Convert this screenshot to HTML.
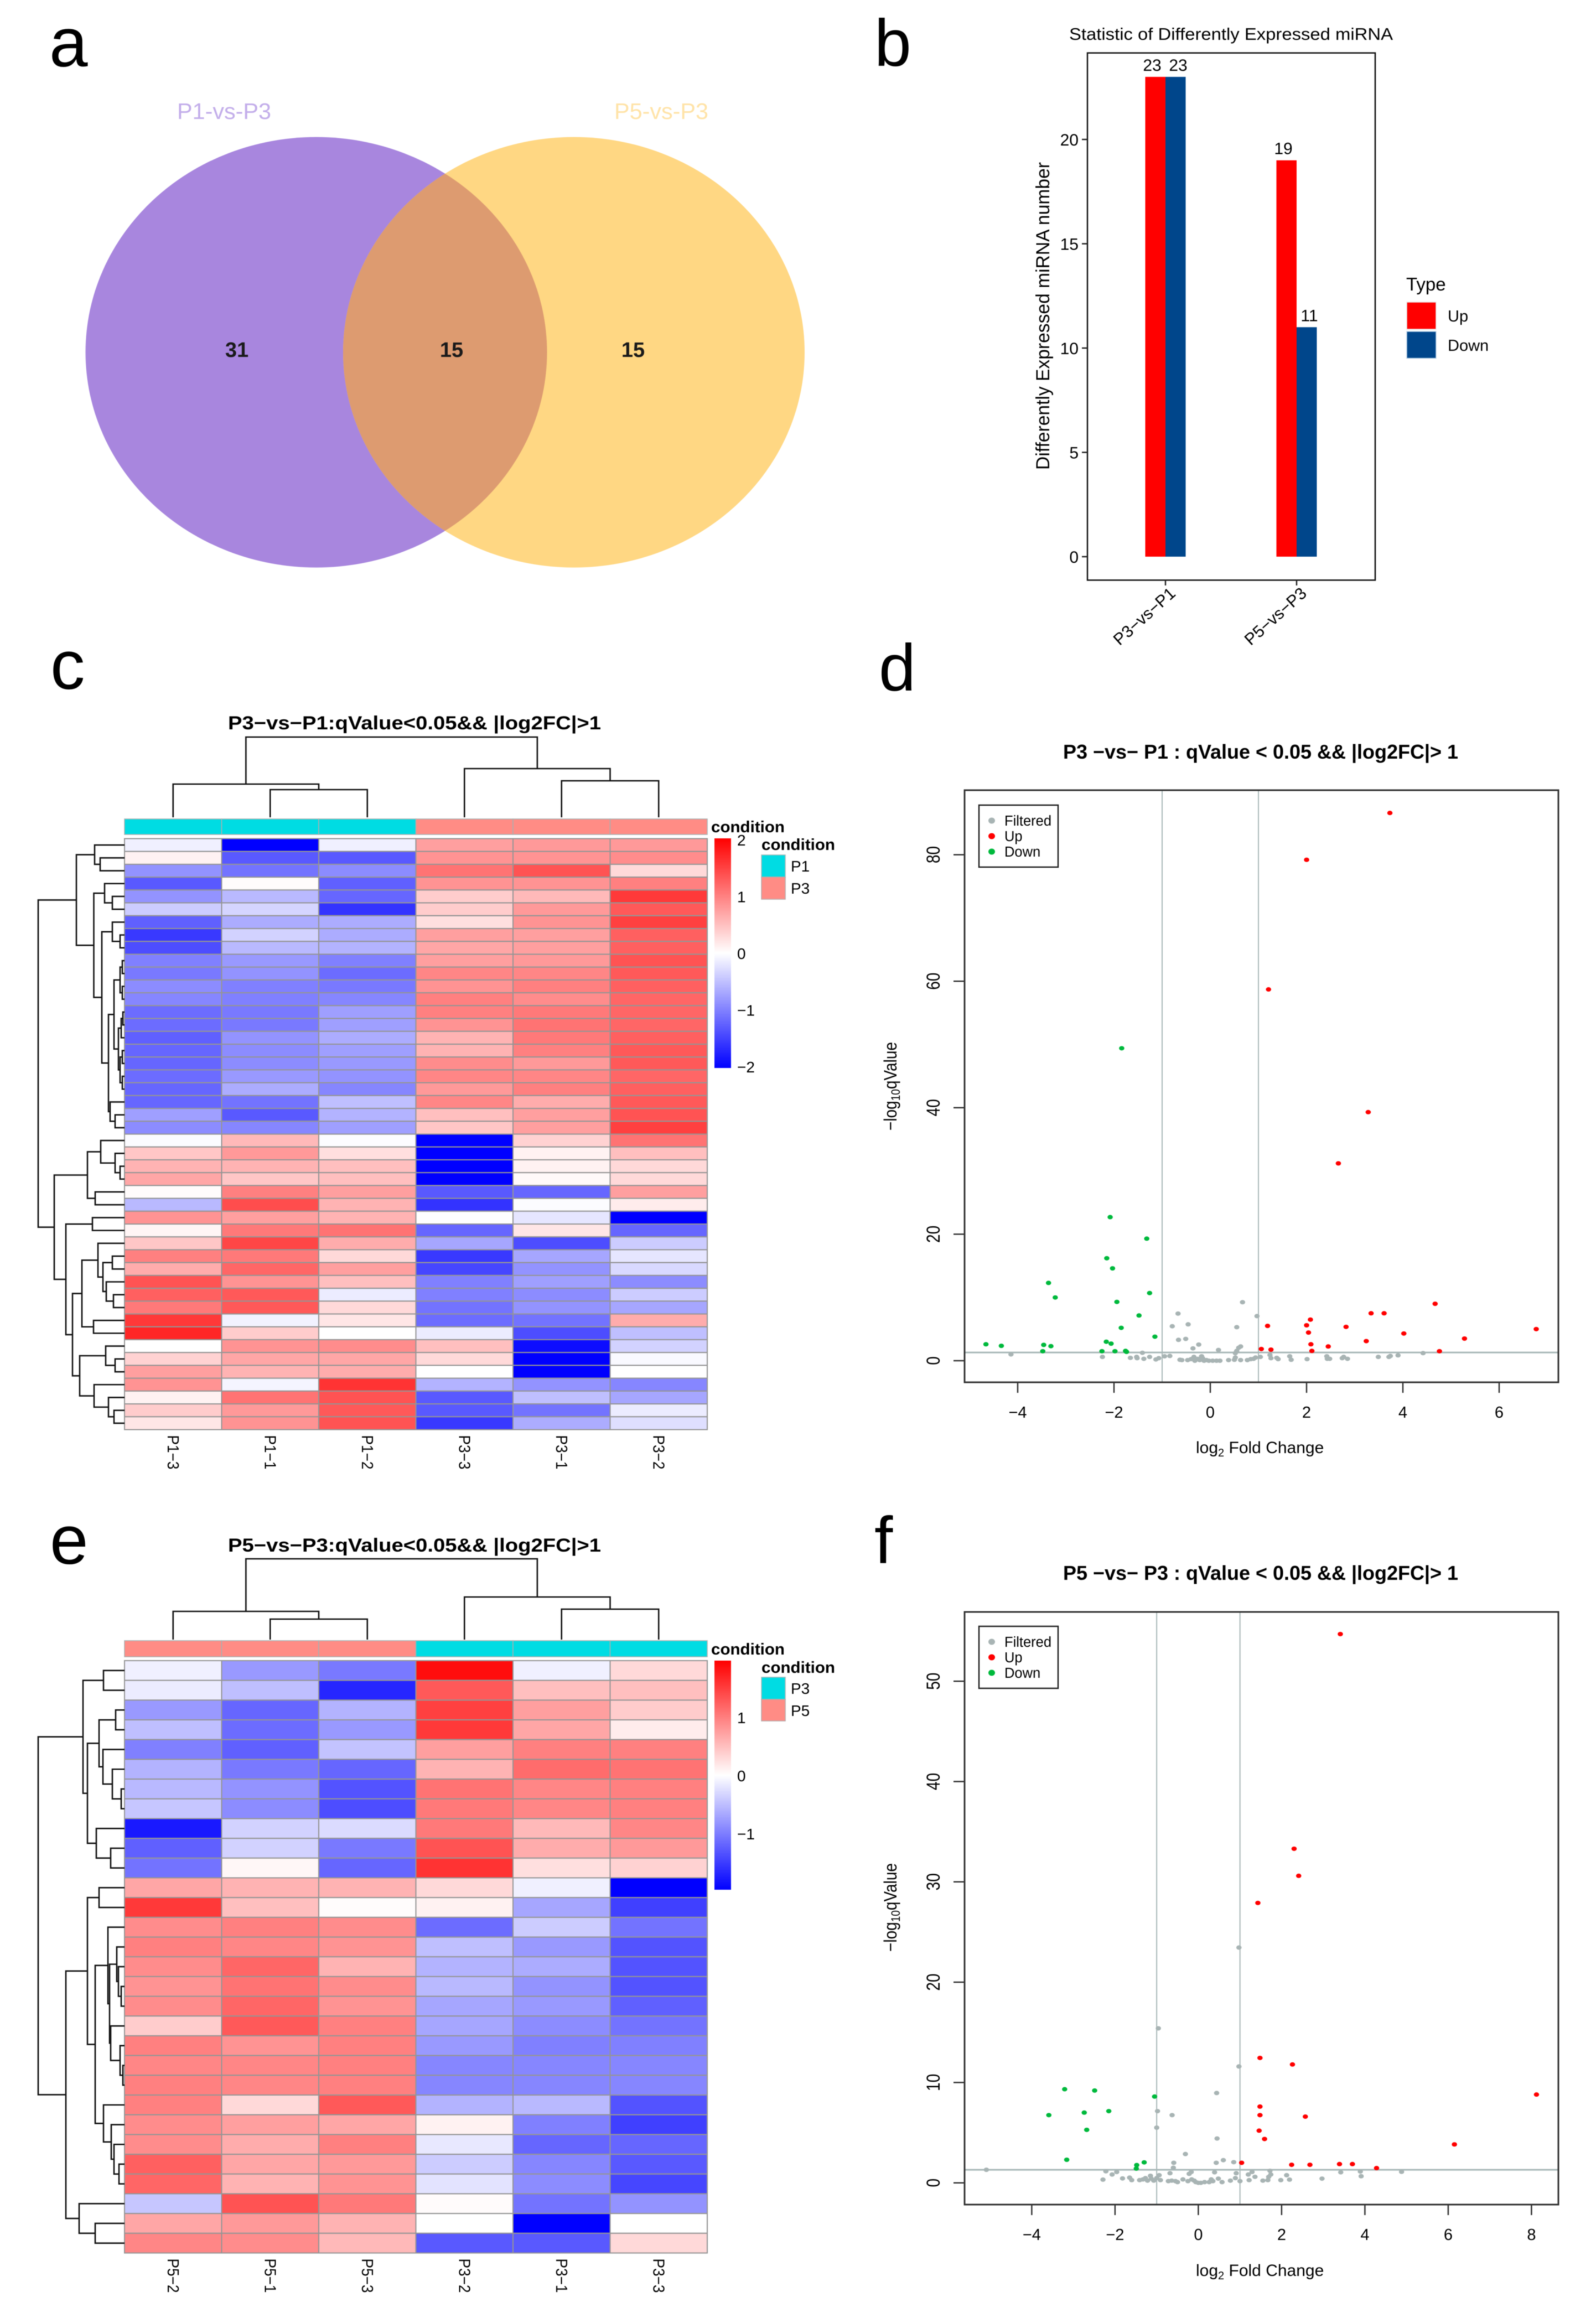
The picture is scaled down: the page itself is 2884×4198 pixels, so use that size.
<!DOCTYPE html>
<html lang="en">
<head>
<meta charset="utf-8">
<title>Differentially expressed miRNA figure</title>
<style>
html,body{margin:0;padding:0;background:#fff;}
svg{display:block;filter:blur(0.7px);}
text{font-family:"Liberation Sans",Arial,sans-serif;fill:#000;}
</style>
</head>
<body>
<svg id="figure" xmlns="http://www.w3.org/2000/svg" width="2884" height="4198" viewBox="0 0 2884 4198">
<defs>
<clipPath id="venn-clip"><ellipse cx="1037" cy="636.6" rx="417" ry="389"/></clipPath>
<linearGradient id="cbar-grad" x1="0" y1="0" x2="0" y2="1">
<stop offset="0" stop-color="#ff0000"/><stop offset="0.5" stop-color="#ffffff"/><stop offset="1" stop-color="#0000ff"/>
</linearGradient>
</defs>
<rect width="2884" height="4198" fill="#ffffff"/>

<text x="89" y="120" font-size="125">a</text>
<text x="1580" y="119" font-size="120">b</text>
<text x="91" y="1245" font-size="125">c</text>
<text x="1588" y="1248" font-size="120">d</text>
<text x="90" y="2826" font-size="125">e</text>
<text x="1580" y="2825" font-size="120">f</text>

<g>
<ellipse cx="571.5" cy="636.6" rx="417" ry="389" fill="#a886de"/>
<ellipse cx="1037" cy="636.6" rx="417" ry="389" fill="#ffd783"/>
<ellipse cx="571.5" cy="636.6" rx="417" ry="389" fill="#dd9b70" clip-path="url(#venn-clip)"/>
<text x="320" y="215" font-size="41" textLength="170" lengthAdjust="spacingAndGlyphs" style="fill:#c3aeea">P1-vs-P3</text>
<text x="1110" y="215" font-size="41" textLength="170" lengthAdjust="spacingAndGlyphs" style="fill:#ffe3a8">P5-vs-P3</text>
<text x="428" y="645" font-size="38" font-weight="bold" text-anchor="middle" style="fill:#1a1a1a">31</text>
<text x="816" y="645" font-size="38" font-weight="bold" text-anchor="middle" style="fill:#1a1a1a">15</text>
<text x="1144" y="645" font-size="38" font-weight="bold" text-anchor="middle" style="fill:#1a1a1a">15</text>
</g>

<g id="bar-chart">
<text x="1932" y="72" font-size="31" textLength="585" lengthAdjust="spacingAndGlyphs">Statistic of Differently Expressed miRNA</text>
<text transform="translate(1896,571) rotate(-90)" font-size="34" text-anchor="middle" textLength="556" lengthAdjust="spacingAndGlyphs">Differently Expressed miRNA number</text>
<text x="2541" y="525" font-size="33">Type</text>
<rect x="2542" y="546" width="53" height="49" fill="#ff0000" stroke="#e8e8e8" stroke-width="1.5"/>
<rect x="2542" y="599" width="53" height="48.5" fill="#00468b" stroke="#bcd3e8" stroke-width="1.5"/>
<text x="2616" y="581" font-size="29">Up</text>
<text x="2616" y="634" font-size="29">Down</text>
</g>

<g id="heat-c">
<text x="412" y="1318" font-size="34" font-weight="bold" textLength="674" lengthAdjust="spacingAndGlyphs">P3−vs−P1:qValue&lt;0.05&amp;&amp; |log2FC|&gt;1</text>
<text x="1285" y="1504" font-size="29" font-weight="bold" textLength="133" lengthAdjust="spacingAndGlyphs">condition</text>
<text x="1376" y="1536" font-size="29" font-weight="bold" textLength="133" lengthAdjust="spacingAndGlyphs">condition</text>
<rect x="1376" y="1545" width="43" height="40" fill="#00dce3" stroke="#a8b8b8" stroke-width="1.5"/>
<rect x="1376" y="1585" width="43" height="40" fill="#ff8c85" stroke="#b8a8a8" stroke-width="1.5"/>
<text x="1429" y="1575" font-size="28">P1</text>
<text x="1429" y="1615" font-size="28">P3</text>
</g>

<g id="heat-e">
<text x="412" y="2804" font-size="34" font-weight="bold" textLength="674" lengthAdjust="spacingAndGlyphs">P5−vs−P3:qValue&lt;0.05&amp;&amp; |log2FC|&gt;1</text>
<text x="1285" y="2990" font-size="29" font-weight="bold" textLength="133" lengthAdjust="spacingAndGlyphs">condition</text>
<text x="1376" y="3023" font-size="29" font-weight="bold" textLength="133" lengthAdjust="spacingAndGlyphs">condition</text>
<rect x="1376" y="3031" width="43" height="40" fill="#00dce3" stroke="#a8b8b8" stroke-width="1.5"/>
<rect x="1376" y="3071" width="43" height="39" fill="#ff8c85" stroke="#b8a8a8" stroke-width="1.5"/>
<text x="1429" y="3061" font-size="28">P3</text>
<text x="1429" y="3101" font-size="28">P5</text>
</g>

<g id="volcano-d">
<text x="1921" y="1371" font-size="36" font-weight="bold" textLength="714" lengthAdjust="spacingAndGlyphs">P3 −vs− P1 : qValue &lt; 0.05 &amp;&amp; |log2FC|&gt; 1</text>
<text x="2161" y="2626" font-size="30">log<tspan font-size="20" dy="6">2</tspan><tspan dy="-6"> Fold Change</tspan></text>
<text transform="translate(1620,1963) rotate(-90) scale(1,1.15)" font-size="28" text-anchor="middle">−log<tspan font-size="19" dy="5">10</tspan><tspan dy="-5">qValue</tspan></text>
</g>

<g id="volcano-f">
<text x="1921" y="2855" font-size="36" font-weight="bold" textLength="714" lengthAdjust="spacingAndGlyphs">P5 −vs− P3 : qValue &lt; 0.05 &amp;&amp; |log2FC|&gt; 1</text>
<text x="2161" y="4113" font-size="30">log<tspan font-size="20" dy="6">2</tspan><tspan dy="-6"> Fold Change</tspan></text>
<text transform="translate(1620,3447) rotate(-90) scale(1,1.15)" font-size="28" text-anchor="middle">−log<tspan font-size="19" dy="5">10</tspan><tspan dy="-5">qValue</tspan></text>
</g>
</svg>

<script>
/* ---------- bar chart data ---------- */
const barCategories = ['P3−vs−P1', 'P5−vs−P3'];
const barUp = [23, 19];
const barDown = [23, 11];
const barTicks = [0, 5, 10, 15, 20];

/* ---------- heatmap c data ---------- */
const heatCColumns = ['P1−3', 'P1−1', 'P1−2', 'P3−3', 'P3−1', 'P3−2'];
const heatCGroups = ['P1', 'P1', 'P1', 'P3', 'P3', 'P3'];
const heatCTicks = [2, 1, 0, -1, -2];
const heatCValues = [
[-0.12,-2,-0.12,0.75,0.8,0.8],
[0.1,-1.3,-1.3,0.85,0.85,0.9],
[-0.85,-1.1,-0.9,1.1,1.35,0.3],
[-1.3,0.02,-1.25,0.85,0.85,1.0],
[-0.85,-0.55,-1.2,0.4,0.55,1.55],
[-0.4,-0.33,-1.6,0.4,0.8,1.3],
[-1.25,-0.65,-0.65,0.25,0.85,1.5],
[-1.55,-0.35,-0.65,0.75,0.75,1.25],
[-1.4,-0.55,-0.6,0.7,0.75,1.25],
[-1.0,-0.8,-1.0,0.75,0.8,1.35],
[-1.05,-0.85,-1.15,0.95,0.95,1.3],
[-0.9,-1.0,-1.05,0.85,1.0,1.25],
[-0.95,-1.0,-0.95,1.0,0.9,1.2],
[-1.15,-1.05,-0.75,1.0,1.05,1.2],
[-1.15,-1.05,-0.75,0.85,1.1,1.2],
[-1.25,-0.85,-0.65,0.6,1.05,1.25],
[-1.2,-0.9,-0.75,0.6,1.0,1.3],
[-1.2,-0.9,-0.8,0.9,0.8,1.3],
[-1.15,-0.8,-0.85,0.95,0.95,1.2],
[-1.2,-0.65,-0.95,0.8,1.0,1.25],
[-1.2,-1.1,-0.5,0.95,0.65,1.3],
[-0.75,-1.3,-0.6,0.5,0.75,1.35],
[-0.9,-0.95,-0.75,0.45,0.75,1.5],
[-0.03,0.55,-0.02,-2,0.35,1.1],
[0.45,0.8,0.25,-2,0.1,0.5],
[0.6,0.6,0.5,-2,0.1,0.3],
[0.7,0.45,0.5,-2,0.05,0.3],
[0.03,1.0,0.75,-1.3,-1.2,0.75],
[-0.55,1.4,0.6,-1.6,-0.02,0.15],
[0.85,0.75,0.6,0,-0.2,-2],
[0.08,1.05,1.1,-1.2,0.2,-1.2],
[0.45,1.45,0.65,-0.7,-1.4,-0.4],
[1.0,1.05,0.3,-1.55,-0.7,-0.2],
[0.65,1.2,0.75,-1.45,-0.85,-0.3],
[1.35,0.85,0.5,-1.0,-0.75,-0.9],
[1.25,1.3,-0.15,-1.0,-0.9,-0.4],
[1.05,1.3,0.3,-1.1,-0.85,-0.7],
[1.55,-0.1,0.2,-1.15,-1.1,0.65],
[1.7,0.4,0,-0.15,-1.4,-0.5],
[0,0.85,0.9,0.5,-1.9,-0.35],
[0.35,0.7,0.7,0.3,-2,-0.05],
[0.75,0.6,0.65,0,-2,0],
[0.85,-0.08,1.6,-0.6,-0.85,-0.95],
[0.1,1.1,1.35,-1.3,-0.5,-0.7],
[0.4,0.8,1.3,-1.3,-1.1,-0.15],
[0.2,0.85,1.35,-1.55,-0.65,-0.25]
];
/* dendrograms: [merge height, child, child]; 0 is a leaf */
const heatCColTree = [145,[60,0,[50,0,0]],[88,0,[66,0,0]]];
const heatCRowTree = [156,
  [87,
    [54,0,[44,0,0]],
    [55.5,
      [36,0,[22,0,0]],
      [41,
        [22,0,[8,0,0]],
        [29,
          [19,[8,[4,0,0],[4,0,0]],[11,[6,[3,0,0],0],[8,[4,0,0],[4,0,0]]]],
          [26,0,[17,0,0]]
        ]
      ]
    ]
  ],
  [127,
    [67,
      [43,0,[17,0,[8,0,0]]],
      [53,0,0]
    ],
    [106,
      [58,0,0],
      [94,
        [77,
          [48,0,[39,[22,0,0],[33,0,[20,0,0]]]],
          [56,0,0]
        ],
        [81,
          [34,0,[17,0,0]],
          [55,0,[29,0,[19,0,0]]]
        ]
      ]
    ]
  ]
];

/* ---------- heatmap e data ---------- */
const heatEColumns = ['P5−2', 'P5−1', 'P5−3', 'P3−2', 'P3−1', 'P3−3'];
const heatEGroups = ['P5', 'P5', 'P5', 'P3', 'P3', 'P3'];
const heatETicks = [1, 0, -1];
const heatEValues = [
[-0.12,-0.8,-1.05,1.9,-0.12,0.3],
[-0.15,-0.5,-1.7,1.3,0.5,0.5],
[-0.8,-1.2,-0.6,1.5,0.75,0.4],
[-0.5,-1.15,-0.8,1.55,0.7,0.15],
[-1.0,-1.25,-0.47,0.75,1.0,1.0],
[-0.6,-1.05,-1.2,0.6,1.15,1.1],
[-0.55,-0.85,-1.35,1.1,0.95,1.0],
[-0.45,-0.9,-1.4,1.05,0.95,1.0],
[-1.8,-0.35,-0.28,1.05,0.55,0.95],
[-1.25,-0.35,-1.05,1.35,0.65,0.8],
[-1.1,0.06,-1.2,1.6,0.25,0.35],
[0.7,0.6,0.6,0.3,-0.12,-2],
[1.55,0.5,0.02,0.1,-0.7,-1.5],
[0.9,1.0,0.9,-1.15,-0.4,-1.1],
[1.0,0.95,0.85,-0.5,-0.8,-1.35],
[0.9,1.2,0.6,-0.6,-0.65,-1.35],
[0.85,1.1,0.9,-0.55,-0.85,-1.35],
[0.9,1.2,0.85,-0.7,-0.8,-1.25],
[0.4,1.3,1.0,-0.7,-0.9,-1.1],
[1.0,0.85,1.0,-0.8,-1.0,-1.0],
[0.95,0.95,1.0,-0.95,-0.95,-0.95],
[1.0,0.95,1.0,-0.95,-0.95,-0.95],
[1.0,0.3,1.3,-0.6,-0.55,-1.35],
[0.9,0.75,0.7,0.1,-1.0,-1.5],
[0.9,0.65,1.0,-0.18,-1.2,-1.2],
[1.25,0.7,0.8,-0.4,-0.95,-1.3],
[1.2,0.6,0.85,-0.22,-0.9,-1.45],
[-0.45,1.35,1.05,0.03,-1.1,-0.85],
[0.7,0.8,0.6,0,-2,0],
[0.95,0.9,0.55,-1.3,-1.3,0.3]
];
const heatEColTree = [146,[51,0,[37,0,0]],[77,0,[55,0,0]]];
const heatERowTree = [156,
  [75,
    [38,0,0],
    [67,
      [46,[16,0,0],[39,0,[22,0,[6,0,0]]]],
      [51,0,[25,0,0]]
    ]
  ],
  [106,
    [67,
      [46,0,0],
      [53,
        [30,0,[27,[14,0,[11,0,[6,0,0]]],[25,0,[8,0,[3,0,0]]]]],
        [38,0,[24,0,[19,0,[10,0,0]]]]
      ]
    ],
    [82,0,[53,0,0]]
  ]
];

/* ---------- volcano d data: [log2FC, -log10 q] ---------- */
const volcanoDXTicks = [-4, -2, 0, 2, 4, 6];
const volcanoDYTicks = [0, 20, 40, 60, 80];
const volcanoDUp = [[3.73,86.6],[2.0,79.2],[1.21,58.7],[3.28,39.3],[2.66,31.2],[4.67,9.0],[3.34,7.5],[3.61,7.5],[2.08,6.5],[1.19,5.5],[2.0,5.6],[2.82,5.35],[6.77,5.0],[2.04,4.45],[4.02,4.3],[5.28,3.5],[3.24,3.1],[2.09,2.6],[2.45,2.25],[1.06,1.85],[1.26,1.75],[2.11,1.55],[4.76,1.5]];
const volcanoDDown = [[-1.84,49.4],[-2.08,22.7],[-1.32,19.3],[-2.15,16.2],[-2.03,14.6],[-3.36,12.3],[-1.26,10.7],[-3.22,10.0],[-1.94,9.3],[-1.48,7.15],[-1.85,5.2],[-1.15,3.8],[-2.16,3.0],[-2.06,2.7],[-4.66,2.6],[-4.34,2.35],[-3.46,2.5],[-3.31,2.3],[-3.48,1.5],[-2.25,1.5],[-1.98,1.5],[-1.76,1.55],[-1.74,1.4]];
const volcanoDFiltered = [[-4.14,1.0],[-2.24,0.6],[-1.66,0.45],[-1.53,0.6],[-1.52,0.4],[-1.38,0.3],[-1.41,1.25],[-1.26,0.6],[-1.13,0.2],[-1.07,0.4],[-0.95,0.7],[-0.84,0.75],[0.67,9.25],[-0.67,7.45],[0.97,7.05],[-0.46,5.75],[-0.79,5.45],[0.55,5.3],[-0.51,3.45],[-0.66,3.3],[-0.24,2.55],[-0.36,1.95],[0.17,1.7],[0.63,2.25],[0.59,2.05],[0.55,1.55],[0.52,1.2],[-0.63,0.15],[-0.59,0.1],[-0.47,0.1],[-0.4,0.25],[-0.34,0.6],[-0.32,0],[-0.26,0.3],[-0.22,0.1],[-0.18,0.7],[-0.16,0.4],[-0.13,0],[-0.08,0.1],[-0.03,0],[0.05,0],[0.13,0],[0.2,0],[0.38,0.1],[0.5,0.15],[0.52,0.5],[0.63,0.1],[0.77,0.1],[0.84,0.25],[0.9,0.3],[0.94,0.5],[1.04,0.6],[1.24,0.9],[1.26,0.4],[1.38,0.45],[1.41,0.25],[1.65,0.7],[1.68,0.15],[2.01,0.25],[2.42,0.7],[2.43,0.3],[2.48,0.3],[2.74,0.4],[2.77,0.6],[2.85,0.3],[3.49,0.6],[3.71,0.6],[3.74,0.75],[3.9,0.85],[4.42,1.2]];

/* ---------- volcano f data: [log2FC, -log10 q] ---------- */
const volcanoFXTicks = [-4, -2, 0, 2, 4, 6, 8];
const volcanoFYTicks = [0, 10, 20, 30, 40, 50];
const volcanoFUp = [[3.41,54.7],[2.30,33.3],[2.41,30.6],[1.43,27.9],[1.48,12.45],[2.26,11.8],[8.12,8.8],[1.48,7.6],[1.48,6.75],[2.57,6.6],[1.46,5.2],[1.59,4.37],[6.15,3.83],[1.04,2.0],[2.24,1.8],[2.68,1.8],[3.39,1.87],[3.7,1.87],[4.28,1.47]];
const volcanoFDown = [[-3.21,9.33],[-2.49,9.2],[-1.05,8.6],[-2.15,7.15],[-2.74,7.0],[-3.59,6.75],[-2.68,5.28],[-3.16,2.3],[-1.3,2.04],[-1.48,1.77],[-1.49,1.42]];
const volcanoFFiltered = [[0.975,23.45],[-0.96,15.4],[0.975,11.6],[0.44,8.95],[-0.98,7.15],[-0.63,6.75],[-1.0,5.5],[0.45,4.42],[-0.31,2.87],[0.6,2.26],[0.43,2.0],[0.85,2.06],[-0.59,2],[-0.6,1.5],[-5.09,1.3],[-2.22,1.15],[-1.96,1.08],[-2.07,0.83],[-2.29,0.32],[-1.82,0.44],[-1.65,0.52],[-1.6,0.27],[-1.41,0.27],[-1.33,0.34],[-1.27,0.47],[-1.22,0.22],[-1.15,0.7],[-1.13,0.42],[-1.07,0.22],[-1,0.47],[-0.94,0.76],[-0.91,0.27],[-0.68,0.96],[-0.72,0.17],[-0.64,0.22],[-0.55,0.17],[-0.5,0.07],[-0.37,0.34],[-0.25,0.17],[-0.22,0.9],[-0.17,1.08],[-0.16,0.34],[-0.1,0.22],[-0.06,0.07],[0,0],[0.06,0],[0.15,0.07],[0.26,0.07],[0.35,0.17],[0.39,1.05],[0.31,0.34],[0.48,0.42],[0.57,0.07],[0.77,0.22],[0.91,0.96],[0.89,0.47],[1,0.17],[1.2,0.83],[1.29,1.08],[1.36,0.6],[1.22,0.27],[1.55,0.22],[1.72,1.2],[1.74,0.83],[1.69,0.6],[1.67,0.27],[1.98,0.27],[2.12,0.76],[2.19,0.32],[2.97,0.42],[3.42,1.05],[3.89,1.13],[3.91,0.66],[4.88,1.1]];

const volcanoThreshold = 1.3;
const volcanoFold = [-1, 1];

/* ---------- drawing helpers ---------- */
const NS = 'http://www.w3.org/2000/svg';
function make(parent, tag, attrs) {
  const node = document.createElementNS(NS, tag);
  for (const k in attrs) node.setAttribute(k, attrs[k]);
  parent.appendChild(node);
  return node;
}
function heatColor(v) {
  const t = Math.min(1, Math.abs(v) / 2);
  const c = Math.round(255 * (1 - t));
  return v >= 0 ? 'rgb(255,' + c + ',' + c + ')' : 'rgb(' + c + ',' + c + ',255)';
}

/* ---------- bar chart ---------- */
function drawBars() {
  const g = document.getElementById('bar-chart');
  const yScale = v => 1006 - v * 37.7;
  const xScale = i => 2106 + i * 237;
  const barW = 36.5;
  const frame = make(g, 'rect', {x: 1965, y: 95.7, width: 520, height: 952.7, fill: 'none', stroke: '#111', 'stroke-width': 2.5});
  
  
  barTicks.forEach(t => {
    const tick = make(g, 'line', {x1: 1955, x2: 1965, y1: yScale(t), y2: yScale(t), stroke: '#222', 'stroke-width': 2.5});
    
    
    const lab = make(g, 'text', {x: 1949, y: yScale(t) + 11, 'font-size': 30, 'text-anchor': 'end'});
    lab.textContent = t;
    
    
  });
  barCategories.forEach((cat, i) => {
    const cx = xScale(i);
    const up = make(g, 'rect', {x: cx - barW, y: yScale(barUp[i]), width: barW, height: yScale(0) - yScale(barUp[i]), fill: '#ff0000'});
    
    
    const down = make(g, 'rect', {x: cx, y: yScale(barDown[i]), width: barW, height: yScale(0) - yScale(barDown[i]), fill: '#00468b'});
    
    
    const upLab = make(g, 'text', {x: cx - 24, y: yScale(barUp[i]) - 11, 'font-size': 30, 'text-anchor': 'middle'});
    upLab.textContent = barUp[i];
    
    
    const downLab = make(g, 'text', {x: cx + 23, y: yScale(barDown[i]) - 11, 'font-size': 30, 'text-anchor': 'middle'});
    downLab.textContent = barDown[i];
    
    
    const tick = make(g, 'line', {x1: cx, x2: cx, y1: 1048, y2: 1058, stroke: '#222', 'stroke-width': 2.5});
    
    
    const lab = make(g, 'text', {transform: 'translate(' + (cx + 20) + ',1075) rotate(-42)', 'font-size': 30, 'text-anchor': 'end'});
    lab.textContent = cat;
    
    
  });
}

/* ---------- heatmaps ---------- */
function drawHeat(id, values, columns, groups, rowTree, colTree, ticks, box) {
  const g = document.getElementById(id);
  const nRows = values.length, nCols = columns.length;
  const cellW = (box.right - box.left) / nCols;
  const cellH = (box.bottom - box.top) / nRows;
  const colX = i => box.left + i * cellW;
  const rowY = i => box.top + i * cellH;

  values.forEach((row, r) => {
    row.forEach((v, c) => {
      const cell = make(g, 'rect', {x: colX(c), y: rowY(r), width: cellW, height: cellH, fill: heatColor(v), stroke: '#959595', 'stroke-width': 2});
      
      
    });
  });

  columns.forEach((name, c) => {
    const fill = groups[c] === box.tealGroup ? '#00dce3' : '#ff8c85';
    const ann = make(g, 'rect', {x: colX(c), y: box.annTop, width: cellW, height: box.annBottom - box.annTop, fill: fill, stroke: '#a9b0b0', 'stroke-width': 1.5});
    
    
    const lab = make(g, 'text', {transform: 'translate(' + (colX(c) + cellW / 2 - 10) + ',' + (box.bottom + 10) + ') rotate(90)', 'font-size': 29, textLength: 62, lengthAdjust: 'spacingAndGlyphs'});
    lab.textContent = name;
    
    
  });

  let rowPath = '', leaf = 0;
  function walkRow(n) {
    if (n === 0) { const y = rowY(leaf++) + cellH / 2; return {y: y, h: 0}; }
    const a = walkRow(n[1]), b = walkRow(n[2]);
    const x = box.left - n[0];
    rowPath += 'M' + (box.left - a.h) + ' ' + a.y + 'H' + x + 'V' + b.y + 'H' + (box.left - b.h);
    return {y: (a.y + b.y) / 2, h: n[0]};
  }
  walkRow(rowTree);
  const rowDendro = make(g, 'path', {d: rowPath, fill: 'none', stroke: '#111', 'stroke-width': 2.6});
  
  

  let colPath = '', colLeaf = 0;
  function walkCol(n) {
    if (n === 0) { const x = colX(colLeaf++) + cellW / 2; return {x: x, h: 0}; }
    const a = walkCol(n[1]), b = walkCol(n[2]);
    const y = box.dendroBase - n[0];
    colPath += 'M' + a.x + ' ' + (box.dendroBase - a.h) + 'V' + y + 'H' + b.x + 'V' + (box.dendroBase - b.h);
    return {x: (a.x + b.x) / 2, h: n[0]};
  }
  walkCol(colTree);
  const colDendro = make(g, 'path', {d: colPath, fill: 'none', stroke: '#111', 'stroke-width': 2.6});
  
  

  const cbar = make(g, 'rect', {x: 1291, y: box.barTop, width: 30, height: box.barBottom - box.barTop, fill: 'url(#cbar-grad)'});
  
  
  const cbarY = v => box.barZero - v * box.barUnit;
  ticks.forEach(t => {
    const lab = make(g, 'text', {x: 1332, y: cbarY(t) + 10, 'font-size': 28});
    lab.textContent = t < 0 ? '−' + Math.abs(t) : t;
    
    
  });
}

/* ---------- volcano plots ---------- */
function drawVolcano(id, up, down, filtered, xTicks, yTicks, box) {
  const g = document.getElementById(id);
  const xScale = v => box.x0 + v * box.xUnit;
  const yScale = v => box.y0 - v * box.yUnit;

  volcanoFold.forEach(f => {
    const line = make(g, 'line', {x1: xScale(f), x2: xScale(f), y1: box.top, y2: box.bottom, stroke: '#a9b8b8', 'stroke-width': 2});
    
    
  });
  const hline = make(g, 'line', {x1: 1743, x2: 2816, y1: yScale(volcanoThreshold), y2: yScale(volcanoThreshold), stroke: '#a9b8b8', 'stroke-width': 3});
  
  

  filtered.forEach(p => {
    const dot = make(g, 'ellipse', {cx: xScale(p[0]), cy: yScale(p[1]), rx: 4.8, ry: 4, fill: '#a8b4b4'});
    
    
  });
  up.forEach(p => {
    const dot = make(g, 'ellipse', {cx: xScale(p[0]), cy: yScale(p[1]), rx: 4.8, ry: 4, fill: '#ff0000'});
    
    
  });
  down.forEach(p => {
    const dot = make(g, 'ellipse', {cx: xScale(p[0]), cy: yScale(p[1]), rx: 4.8, ry: 4, fill: '#00b93c'});
    
    
  });

  const frame = make(g, 'rect', {x: 1743, y: box.top, width: 1073, height: box.bottom - box.top, fill: 'none', stroke: '#333', 'stroke-width': 3});
  
  

  xTicks.forEach(t => {
    const tick = make(g, 'line', {x1: xScale(t), x2: xScale(t), y1: box.bottom, y2: box.bottom + 19, stroke: '#333', 'stroke-width': 2.5});
    
    
    const lab = make(g, 'text', {x: xScale(t), y: box.bottom + 64, 'font-size': 29, 'text-anchor': 'middle'});
    lab.textContent = t < 0 ? '−' + Math.abs(t) : t;
    
    
  });
  yTicks.forEach(t => {
    const tick = make(g, 'line', {x1: 1723, x2: 1743, y1: yScale(t), y2: yScale(t), stroke: '#333', 'stroke-width': 2.5});
    
    
    const lab = make(g, 'text', {transform: 'translate(1698,' + yScale(t) + ') rotate(-90) scale(1,1.22)', 'font-size': 28, 'text-anchor': 'middle'});
    lab.textContent = t;
    
    
  });

  const leg = make(g, 'rect', {x: 1769, y: box.legendTop, width: 143, height: 112, fill: '#fff', stroke: '#222', 'stroke-width': 2.5});
  
  
  const legRows = [['Filtered', '#a8b4b4', 28], ['Up', '#ff0000', 56], ['Down', '#00b93c', 84]];
  legRows.forEach(r => {
    const dot = make(g, 'ellipse', {cx: 1792, cy: box.legendTop + r[2], rx: 6, ry: 5.5, fill: r[1]});
    
    
    const lab = make(g, 'text', {x: 1815, y: box.legendTop + r[2] + 9, 'font-size': 25.5});
    lab.textContent = r[0];
    
    
  });
}

drawBars();
drawHeat('heat-c', heatCValues, heatCColumns, heatCGroups, heatCRowTree, heatCColTree, heatCTicks, {
  left: 225, right: 1278, top: 1515.5, bottom: 2583.5, annTop: 1480, annBottom: 1508, dendroBase: 1477,
  tealGroup: 'P1', barTop: 1515, barBottom: 1930, barZero: 1723, barUnit: 102.5
});
drawHeat('heat-e', heatEValues, heatEColumns, heatEGroups, heatERowTree, heatEColTree, heatETicks, {
  left: 225, right: 1278, top: 3001, bottom: 4071.5, annTop: 2965, annBottom: 2994, dendroBase: 2963,
  tealGroup: 'P3', barTop: 3001, barBottom: 3415, barZero: 3209, barUnit: 105
});
drawVolcano('volcano-d', volcanoDUp, volcanoDDown, volcanoDFiltered, volcanoDXTicks, volcanoDYTicks, {
  x0: 2187, xUnit: 87, y0: 2459, yUnit: 11.43, top: 1428, bottom: 2498, legendTop: 1455
});
drawVolcano('volcano-f', volcanoFUp, volcanoFDown, volcanoFFiltered, volcanoFXTicks, volcanoFYTicks, {
  x0: 2165.4, xUnit: 75.25, y0: 3944.7, yUnit: 18.13, top: 2913, bottom: 3984, legendTop: 2939
});
</script>
</body>
</html>
